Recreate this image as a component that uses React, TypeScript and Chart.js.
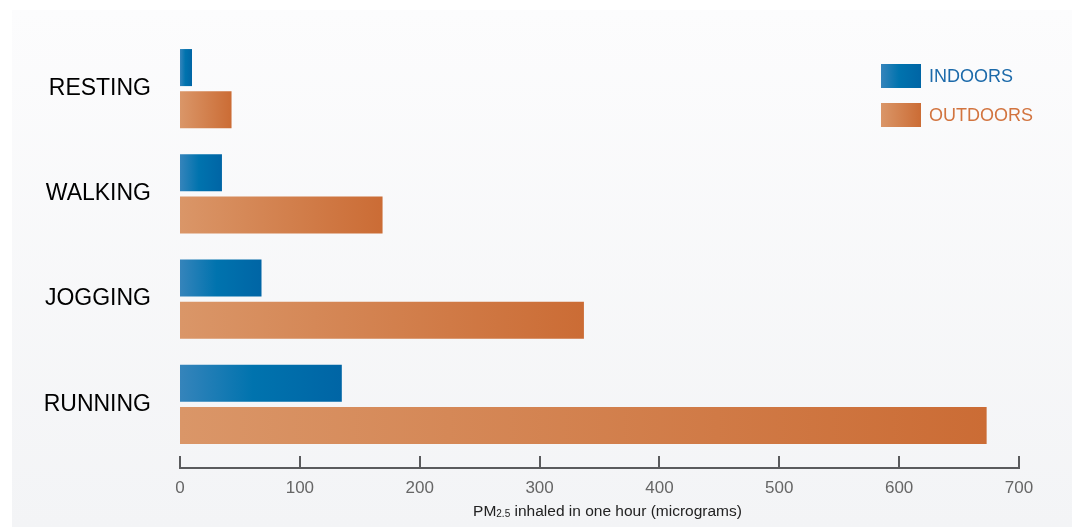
import React, { useEffect, useRef } from "react";
import { Chart, registerables } from "chart.js";

Chart.register(...registerables);

const categories = ["RESTING", "WALKING", "JOGGING", "RUNNING"];
const indoorValues = [10, 35, 68, 135];
const outdoorValues = [43, 169, 337, 673];
const seriesLabels = ["INDOORS", "OUTDOORS"];
const xTickValues = [0, 100, 200, 300, 400, 500, 600, 700];
const axisTitleMain = "PM";
const axisTitleSub = "2.5";
const axisTitleRest = " inhaled in one hour (micrograms)";

const FONT = "'Liberation Sans', Arial, sans-serif";

const indoorStops: [number, string][] = [
  [0, "#3584bb"],
  [0.45, "#0073ae"],
  [1, "#0065a5"],
];
const outdoorStops: [number, string][] = [
  [0, "#da9668"],
  [1, "#cb6c35"],
];

function makeGrad(ctx: CanvasRenderingContext2D, x0: number, x1: number, stops: [number, string][]) {
  const g = ctx.createLinearGradient(x0, 0, x1, 0);
  stops.forEach(([o, c]) => g.addColorStop(o, c));
  return g;
}

function barColor(stops: [number, string][]) {
  return (c: any) => {
    const chart = c.chart;
    const xs = chart.scales?.x;
    if (!chart.chartArea || !xs || c.type !== "data") return stops[stops.length - 1][1];
    const v = c.raw as number;
    const x0 = xs.getPixelForValue(0);
    const x1 = xs.getPixelForValue(v);
    if (x1 - x0 < 1) return stops[stops.length - 1][1];
    return makeGrad(chart.ctx, x0, x1, stops);
  };
}

const backgroundPlugin = {
  id: "panelBg",
  beforeDraw(chart: any) {
    const ctx = chart.ctx as CanvasRenderingContext2D;
    const w = chart.width;
    const h = chart.height;
    ctx.save();
    ctx.fillStyle = "#ffffff";
    ctx.fillRect(0, 0, w, h);
    const g = ctx.createLinearGradient(0, 10, 0, h);
    g.addColorStop(0, "#fcfcfd");
    g.addColorStop(1, "#f3f4f6");
    ctx.fillStyle = g;
    ctx.fillRect(12, 10, w - 12, h - 10);
    ctx.restore();
  },
};

const axisPlugin = {
  id: "customAxis",
  afterDraw(chart: any) {
    const ctx = chart.ctx as CanvasRenderingContext2D;
    const xs = chart.scales.x;
    const area = chart.chartArea;
    const axisY = area.bottom + 11;
    ctx.save();
    ctx.strokeStyle = "#5a5b5d";
    ctx.lineWidth = 2;
    ctx.beginPath();
    ctx.moveTo(xs.getPixelForValue(xTickValues[0]) - 1, axisY);
    ctx.lineTo(xs.getPixelForValue(xTickValues[xTickValues.length - 1]) + 1, axisY);
    ctx.stroke();
    ctx.beginPath();
    xTickValues.forEach((v) => {
      const x = Math.round(xs.getPixelForValue(v));
      ctx.moveTo(x, axisY - 12);
      ctx.lineTo(x, axisY);
    });
    ctx.stroke();

    ctx.fillStyle = "#666666";
    ctx.font = `17px ${FONT}`;
    ctx.textAlign = "center";
    ctx.textBaseline = "middle";
    xTickValues.forEach((v) => {
      ctx.fillText(String(v), xs.getPixelForValue(v), axisY + 20);
    });

    // axis title with subscript
    const mainFont = `15.5px ${FONT}`;
    const subFont = `10px ${FONT}`;
    ctx.font = mainFont;
    const w1 = ctx.measureText(axisTitleMain).width;
    const w3 = ctx.measureText(axisTitleRest).width;
    ctx.font = subFont;
    const w2 = ctx.measureText(axisTitleSub).width;
    const total = w1 + w2 + w3;
    const cx = (area.left + area.right) / 2 + 8;
    let x = cx - total / 2;
    const baseY = axisY + 48;
    ctx.textAlign = "left";
    ctx.textBaseline = "alphabetic";
    ctx.fillStyle = "#222222";
    ctx.font = mainFont;
    ctx.fillText(axisTitleMain, x, baseY);
    x += w1;
    ctx.font = subFont;
    ctx.fillText(axisTitleSub, x, baseY + 1);
    x += w2;
    ctx.font = mainFont;
    ctx.fillText(axisTitleRest, x, baseY);
    ctx.restore();
  },
};

const legendPlugin = {
  id: "customLegend",
  afterDraw(chart: any) {
    const ctx = chart.ctx as CanvasRenderingContext2D;
    const items = [
      { label: seriesLabels[0], stops: indoorStops, color: "#1c6aaa", y: 64 },
      { label: seriesLabels[1], stops: outdoorStops, color: "#d2743f", y: 103 },
    ];
    ctx.save();
    items.forEach((it) => {
      const bx = 881;
      const bw = 40;
      const bh = 24;
      ctx.fillStyle = makeGrad(ctx, bx, bx + bw, it.stops);
      ctx.fillRect(bx, it.y, bw, bh);
      ctx.fillStyle = it.color;
      ctx.font = `18px ${FONT}`;
      ctx.textAlign = "left";
      ctx.textBaseline = "middle";
      ctx.fillText(it.label, 929, it.y + bh / 2 + 1);
    });
    ctx.restore();
  },
};

export default function App() {
  const canvasRef = useRef<HTMLCanvasElement | null>(null);

  useEffect(() => {
    if (!canvasRef.current) return;
    const chart = new Chart(canvasRef.current, {
      type: "bar",
      data: {
        labels: categories,
        datasets: [
          {
            label: seriesLabels[0],
            data: indoorValues,
            backgroundColor: barColor(indoorStops) as any,
            borderWidth: 0,
            categoryPercentage: 0.8,
            barPercentage: 0.88,
          },
          {
            label: seriesLabels[1],
            data: outdoorValues,
            backgroundColor: barColor(outdoorStops) as any,
            borderWidth: 0,
            categoryPercentage: 0.8,
            barPercentage: 0.88,
          },
        ],
      },
      options: {
        indexAxis: "y",
        animation: false,
        responsive: false,
        maintainAspectRatio: false,
        layout: { padding: { top: 36, right: 53, bottom: 70, left: 0 } },
        plugins: {
          legend: { display: false },
          tooltip: { enabled: false },
          title: { display: false },
        },
        scales: {
          x: {
            display: false,
            min: 0,
            max: 700,
            ticks: { stepSize: 100 },
          },
          y: {
            grid: { display: false, drawTicks: false },
            border: { display: false },
            ticks: {
              color: "#000000",
              font: { family: FONT, size: 23 },
              padding: 29,
            },
            afterFit(scale: any) {
              scale.width = 180;
              scale.paddingTop = 0;
              scale.paddingBottom = 0;
            },
          },
        },
      },
      plugins: [backgroundPlugin, axisPlugin, legendPlugin],
    });
    return () => chart.destroy();
  }, []);

  return (
    <div style={{ position: "fixed", left: 0, top: 0, width: 1072, height: 527 }}>
      <canvas ref={canvasRef} width={1072} height={527} style={{ width: 1072, height: 527, display: "block" }} />
    </div>
  );
}
